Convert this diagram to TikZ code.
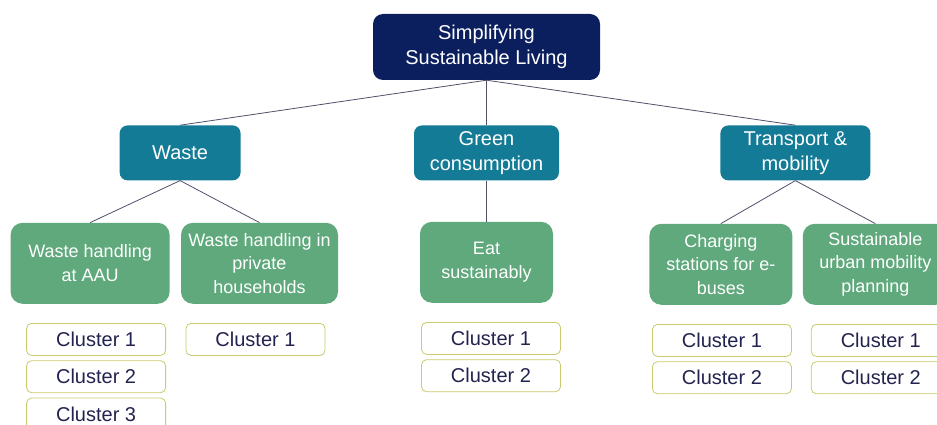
\documentclass[tikz,border=0pt]{standalone}
\usepackage{fontspec}
\setmainfont{Liberation Sans}
\usepackage{xcolor}
\usepackage{tikz}
\usetikzlibrary{positioning}

\definecolor{navy}{HTML}{0B1F5E}
\definecolor{teal}{HTML}{137B96}
\definecolor{leaf}{HTML}{5FA97C}
\definecolor{olive}{HTML}{CACA6E}
\definecolor{ink}{HTML}{23234F}
\definecolor{wire}{HTML}{50506A}

\begin{document}
\begin{tikzpicture}[
  x=1pt, y=-1pt,
  root/.style={rectangle, rounded corners=10pt, fill=navy, text=white, align=center,
    minimum width=227pt, minimum height=66pt, font=\fontsize{20}{25}\selectfont},
  topic/.style={rectangle, rounded corners=8pt, fill=teal, text=white, align=center,
    minimum height=55pt, font=\fontsize{20}{25}\selectfont},
  theme/.style={rectangle, rounded corners=12pt, fill=leaf, text=white, align=center,
    minimum height=81pt, font=\fontsize{18}{23.5}\selectfont, inner sep=2pt},
  clust/.style={rectangle, rounded corners=5pt, draw=olive, fill=white, text=ink, thick,
    minimum width=139pt, minimum height=32pt, font=\fontsize{20}{24}\selectfont},
  link/.style={draw=wire, line width=0.8pt},
]
  \useasboundingbox (0,0) rectangle (937,425);

  \node[root] (root) at (486.5,47) {Simplifying\\Sustainable Living};

  % second level
  \node[topic, minimum width=145pt] (green) [below=45pt of root] {Green\\consumption};
  \node[topic, minimum width=121pt] (waste) [left=173pt of green] {Waste};
  \node[topic, minimum width=150pt] (transport) [right=161pt of green] {Transport \&\\mobility};

  % third level
  \node[theme, minimum width=159pt] (aau) [below=42pt of waste, xshift=-90pt] {Waste handling\\at AAU};
  \node[theme, minimum width=157pt] (house) [right=11pt of aau] {Waste handling in\\private\\households};
  \node[theme, minimum width=133pt] (eat) [below=41pt of green] {Eat\\sustainably};
  \node[theme, minimum width=143pt] (charge) [below=43pt of transport, xshift=-74.5pt] {Charging\\stations for e-\\buses};
  \node[theme, minimum width=145pt] (urban) [right=10pt of charge] {Sustainable\\urban mobility\\planning};

  % clusters
  \node[clust] (aauc1) [below=19pt of aau, xshift=6pt] {Cluster 1};
  \node[clust] (aauc2) [below=4.5pt of aauc1] {Cluster 2};
  \node[clust] (aauc3) [below=4.5pt of aauc2] {Cluster 3};
  \node[clust] (housec1) [below=19pt of house, xshift=-4pt] {Cluster 1};
  \node[clust] (eatc1) [below=19pt of eat, xshift=4.5pt] {Cluster 1};
  \node[clust] (eatc2) [below=4.5pt of eatc1] {Cluster 2};
  \node[clust] (chargec1) [below=19pt of charge, xshift=1pt] {Cluster 1};
  \node[clust] (chargec2) [below=4.5pt of chargec1] {Cluster 2};
  \node[clust] (urbanc1) [below=19pt of urban, xshift=5.5pt] {Cluster 1};
  \node[clust] (urbanc2) [below=4.5pt of urbanc1] {Cluster 2};

  \draw[link] (root.south) -- (waste.north);
  \draw[link] (root.south) -- (green.north);
  \draw[link] (root.south) -- (transport.north);
  \draw[link] (waste.south) -- (aau.north);
  \draw[link] (waste.south) -- (house.north);
  \draw[link] (green.south) -- (eat.north);
  \draw[link] (transport.south) -- (charge.north);
  \draw[link] (transport.south) -- (urban.north);
\end{tikzpicture}
\end{document}
